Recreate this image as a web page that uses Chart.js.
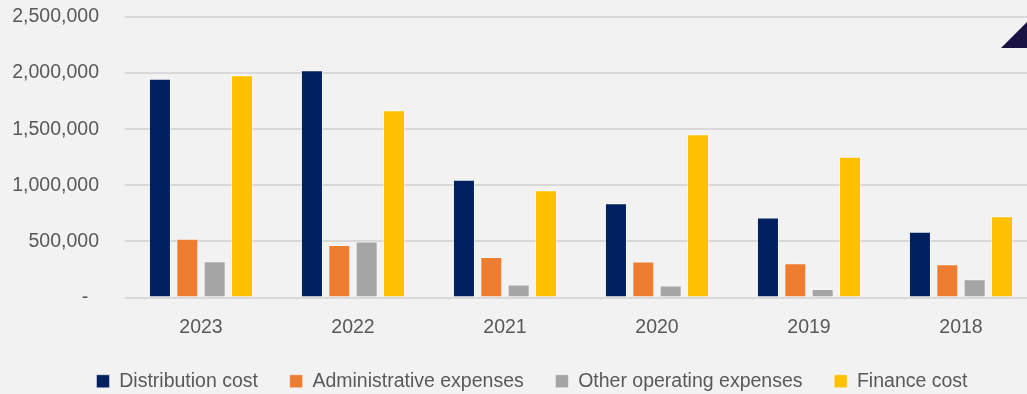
<!DOCTYPE html>
<html>
<head>
<meta charset="utf-8">
<script src="https://cdn.jsdelivr.net/npm/chart.js@4.4.1/dist/chart.umd.min.js"></script>
<style>
  html, body { margin: 0; padding: 0; background: #f2f2f2; overflow: hidden; }
  #wrap { width: 1064px; height: 401px; }
</style>
</head>
<body>
<div id="wrap"><canvas id="myChart" width="1064" height="401"></canvas></div>
<script>
//categories and series
const years = ['2023', '2022', '2021', '2020', '2019', '2018'];
const distributionCost = [1950000, 2025000, 1050000, 840000, 712000, 585000];
const adminExpenses = [524000, 467000, 362000, 320000, 305000, 296000];
const otherOpExpenses = [324000, 500000, 115000, 108000, 75000, 163000];
const financeCost = [1980000, 1670000, 955000, 1455000, 1255000, 725000];
const yTicks = [0, 500000, 1000000, 1500000, 2000000, 2500000];

const textColor = '#595959';
const fontFamily = '"Liberation Sans", Arial, sans-serif';

//small decoration in the top right corner
const cornerMark = {
  id: 'cornerMark',
  afterDraw(chart) {
    const c = chart.ctx;
    c.save();
    c.fillStyle = '#1a1342';
    c.beginPath();
    c.moveTo(1001, 48);
    c.lineTo(1064, 48);
    c.lineTo(1064, -15);
    c.closePath();
    c.fill();
    c.restore();
  }
};

const bgFill = {
  id: 'bgFill',
  beforeDraw(chart) {
    const c = chart.ctx;
    c.save();
    c.fillStyle = '#f2f2f2';
    c.fillRect(0, 0, chart.width, chart.height);
    c.restore();
  }
};

function makeSet(label, values, color) {
  return {
    label: label,
    data: values,
    backgroundColor: color,
    borderColor: 'rgba(255,255,255,0.45)',
    borderWidth: 1,
    yAxisID: 'y',
    barPercentage: 0.805,
    categoryPercentage: 0.72
  };
}

const ctx = document.getElementById('myChart');
const chart1 = new Chart(ctx, {
  type: 'bar',
  data: {
    labels: years,
    datasets: [
      makeSet('Distribution cost', distributionCost, '#002060'),
      makeSet('Administrative expenses', adminExpenses, '#ed7d31'),
      makeSet('Other operating expenses', otherOpExpenses, '#a5a5a5'),
      makeSet('Finance cost', financeCost, '#ffc000')
    ]
  },
  options: {
    responsive: false,
    animation: false,
    layout: { padding: { top: 17, bottom: 0, left: 0, right: 0 } },
    plugins: {
      tooltip: { enabled: false },
      legend: {
        display: true,
        position: 'bottom',
        labels: {
          boxWidth: 13,
          boxHeight: 13,
          padding: 10,
          color: textColor,
          font: { family: fontFamily, size: 19.5 },
          //trailing spaces widen the gap between items without growing the legend height
          generateLabels(chart) {
            const items = Chart.defaults.plugins.legend.labels.generateLabels(chart);
            items.forEach((it, i) => { if (i < items.length - 1) it.text += '    '; });
            return items;
          }
        }
      }
    },
    scales: {
      x: {
        afterFit(scale) { scale.height = 64; },
        grid: { display: false, drawTicks: false },
        border: { display: false },
        ticks: { color: textColor, padding: 18, font: { family: fontFamily, size: 19.5 } }
      },
      y: {
        min: 0,
        max: 2500000,
        afterFit(scale) { scale.width = 125; },
        afterBuildTicks(scale) { scale.ticks = yTicks.map(v => ({ value: v })); },
        //invisible tick marks keep the labels away from the plot without padding the top
        grid: { color: '#d9d9d9', lineWidth: 2, drawTicks: true, tickLength: 26, tickColor: 'rgba(0,0,0,0)' },
        border: { display: false },
        ticks: {
          color: textColor,
          padding: 0,
          font: { family: fontFamily, size: 19.5 },
          callback: v => v === 0 ? '-  ' : v.toLocaleString('en-US')
        }
      },
      y2: {
        position: 'right',
        display: true,
        afterFit(scale) { scale.width = 27; },
        grid: { display: false, drawTicks: false },
        border: { display: false },
        ticks: { display: false }
      }
    }
  },
  plugins: [bgFill, cornerMark]
});
</script>
</body>
</html>
